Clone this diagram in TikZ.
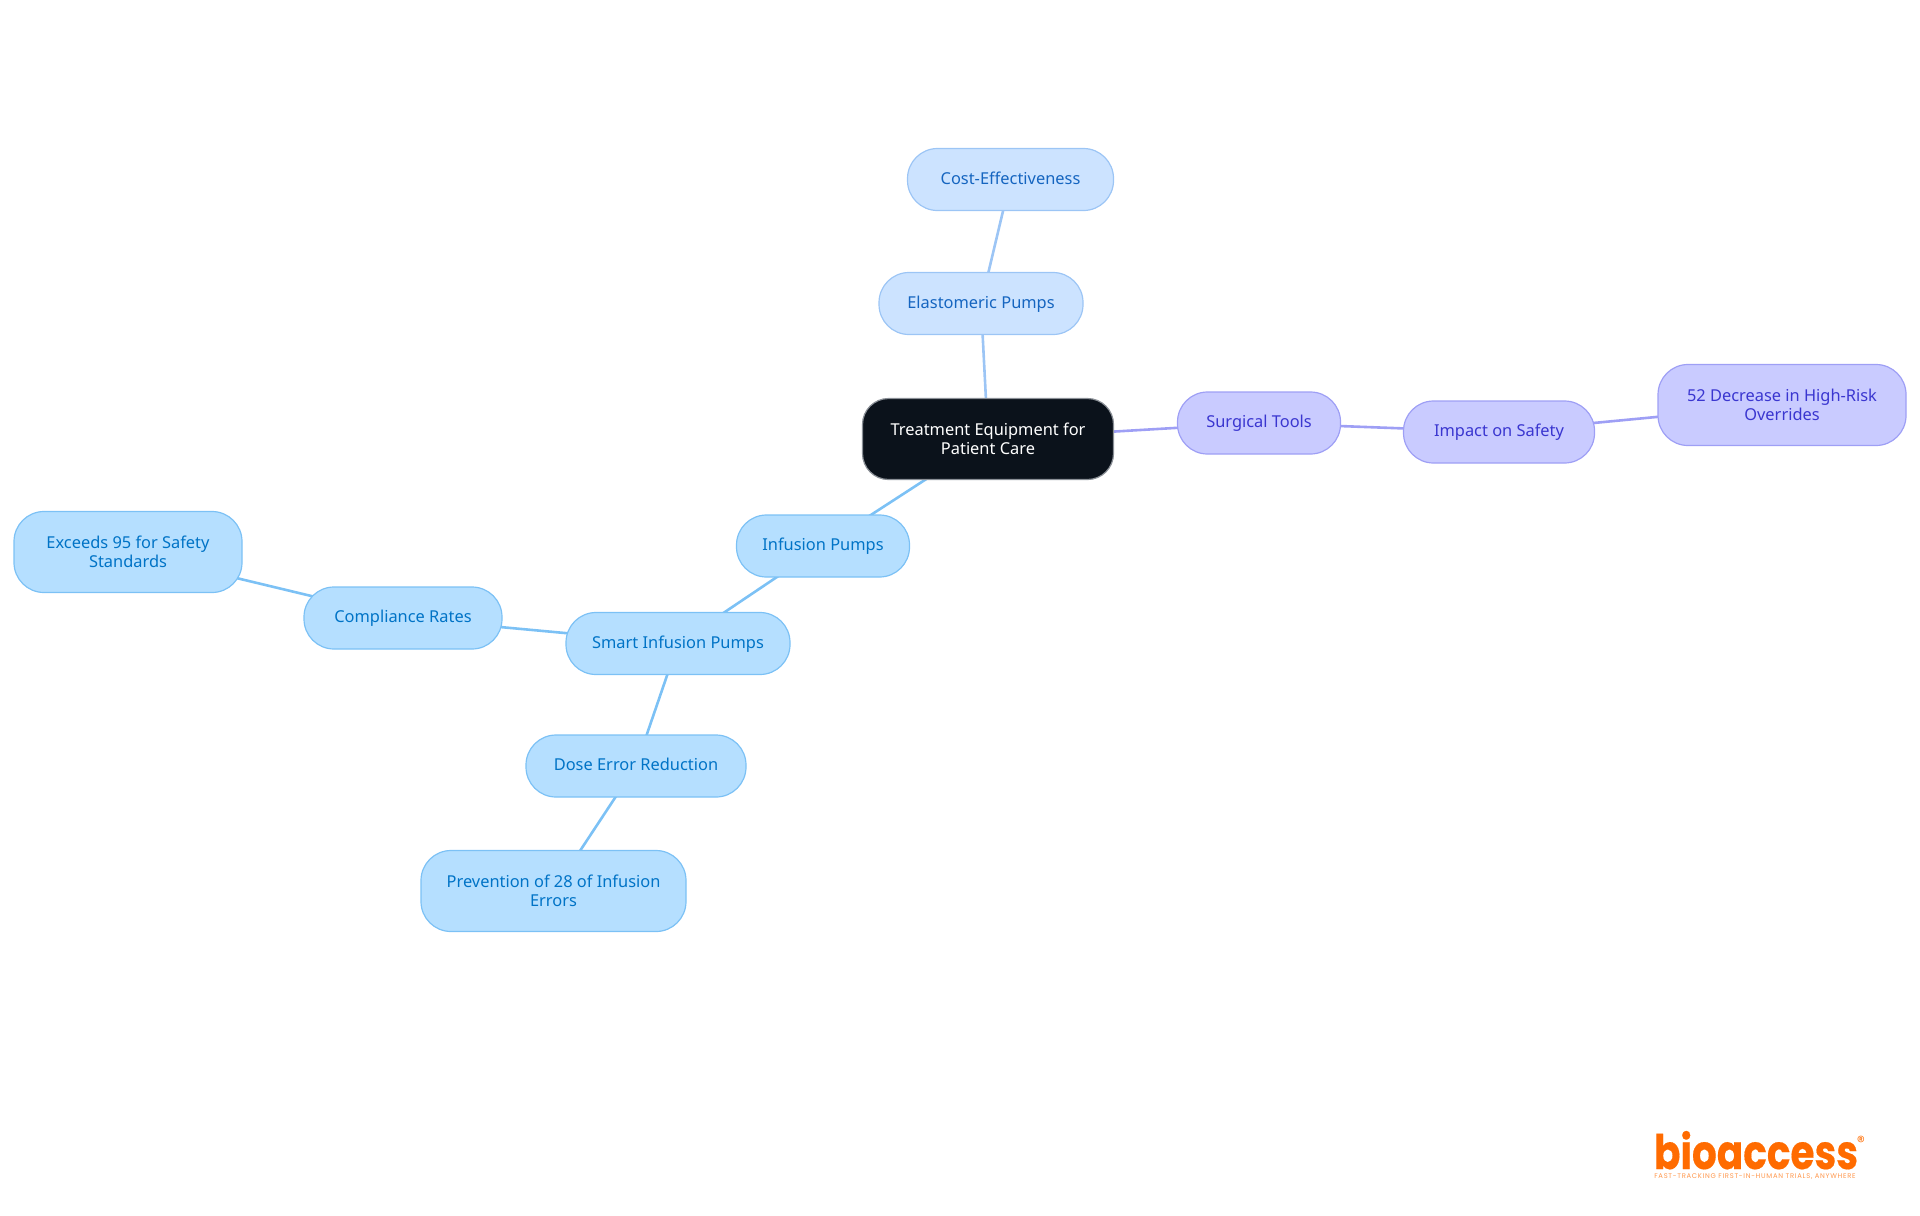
\documentclass[tikz,border=0pt]{standalone}
\usepackage{fontspec}
\setmainfont{Noto Sans}
\usepackage{xcolor}
\usepackage{graphicx}
\usetikzlibrary{backgrounds}
\definecolor{rootfill}{HTML}{0B121B}
\definecolor{rootline}{HTML}{8A8F96}
\definecolor{skyfill}{HTML}{B5DFFF}
\definecolor{skyline}{HTML}{7CC1F5}
\definecolor{skytext}{HTML}{0073C6}
\definecolor{palefill}{HTML}{CCE3FF}
\definecolor{paleline}{HTML}{9CC5F5}
\definecolor{paletext}{HTML}{1565C0}
\definecolor{violetfill}{HTML}{C9CBFF}
\definecolor{violetline}{HTML}{9E9FF5}
\definecolor{violettext}{HTML}{3A36D0}
\definecolor{logoorange}{HTML}{FF6B00}

\begin{document}
\begin{tikzpicture}[x=0.5pt,y=-0.5pt,
                    every node/.style = {align=center, font=\fontsize{8.2}{9.5}\selectfont},
                    mind/.style = {draw, rounded corners=15pt, line width=0.6pt, minimum height=31pt, inner sep=0pt,
                                   text height=7pt, text depth=2.2pt},
                    tall/.style = {minimum height=40.5pt, text height=, text depth=},
                    rootnode/.style = {mind, tall, rounded corners=13pt, fill=rootfill, draw=rootline, text=white},
                    sky/.style = {mind, fill=skyfill, draw=skyline, text=skytext},
                    pale/.style = {mind, fill=palefill, draw=paleline, text=paletext},
                    violet/.style = {mind, fill=violetfill, draw=violetline, text=violettext},
                    link/.style = {line width=1.3pt}]
    \useasboundingbox (0,0) rectangle (1920,1215);
    \node[rootnode, minimum width=125.5pt] (root) at (988,439) {Treatment Equipment for\\Patient Care};
    \node[violet, minimum width=81.5pt] (surgical) at (1259,423) {Surgical Tools};
    \node[violet, minimum width=95.5pt] (impact) at (1499,432) {Impact on Safety};
    \node[violet, tall, minimum width=124pt] (overrides) at (1782,405) {52 Decrease in High-Risk\\Overrides};
    \node[pale, minimum width=102pt] (elastomeric) at (981,303.5) {Elastomeric Pumps};
    \node[pale, minimum width=103pt] (cost) at (1010.5,179.5) {Cost-Effectiveness};
    \node[sky, minimum width=86.5pt] (infusion) at (823,546) {Infusion Pumps};
    \node[sky, minimum width=112pt] (smart) at (678,643.5) {Smart Infusion Pumps};
    \node[sky, minimum width=99pt] (compliance) at (403,618) {Compliance Rates};
    \node[sky, tall, minimum width=114pt] (exceeds) at (128,552) {Exceeds 95 for Safety\\Standards};
    \node[sky, minimum width=110pt] (dose) at (636,766) {Dose Error Reduction};
    \node[sky, tall, minimum width=132.5pt] (prevention) at (553.5,891) {Prevention of 28 of Infusion\\Errors};
    \begin{scope}[on background layer]
        \draw[link, violetline] (root.center) -- (surgical.center);
        \draw[link, violetline] (surgical.center) -- (impact.center);
        \draw[link, violetline] (impact.center) -- (overrides.center);
        \draw[link, paleline] (root.center) -- (elastomeric.center);
        \draw[link, paleline] (elastomeric.center) -- (cost.center);
        \draw[link, skyline] (root.center) -- (infusion.center);
        \draw[link, skyline] (infusion.center) -- (smart.center);
        \draw[link, skyline] (smart.center) -- (compliance.center);
        \draw[link, skyline] (compliance.center) -- (exceeds.center);
        \draw[link, skyline] (smart.center) -- (dose.center);
        \draw[link, skyline] (dose.center) -- (prevention.center);
    \end{scope}
    \node[anchor=base, inner sep=0pt, text=logoorange, font={\fontspec{Poppins}[FakeBold=0.4]\bfseries\fontsize{19.5}{19.5}\selectfont}] (logo) at (1756,1169) {\scalebox{1}[1.22]{bioaccess}};
    \node[inner sep=0pt, text=logoorange, font={\fontspec{Poppins}\fontsize{8}{8}\selectfont}] (registered) at (1861,1142) {®};
    \node[inner sep=0pt, text=logoorange!70, font={\fontspec{Poppins}[LetterSpace=10.6]\fontsize{3.4}{3.4}\selectfont}] (tagline) at (1755,1177) {FAST-TRACKING FIRST-IN-HUMAN TRIALS, ANYWHERE};
\end{tikzpicture}
\end{document}
